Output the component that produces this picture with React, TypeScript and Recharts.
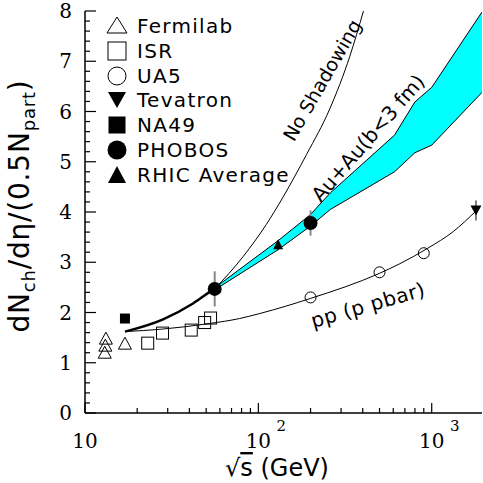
import React from "react";
import { ComposedChart, Line, Area, Scatter, XAxis, YAxis, ErrorBar } from "recharts";

// sqrt(s) in GeV and dN/deta per participant pair
const fermilabS = [13.0, 13.1, 13.2, 17.0];
const fermilabN = [1.19, 1.33, 1.47, 1.37];

const isrS = [23, 28, 41, 49, 53];
const isrN = [1.39, 1.59, 1.65, 1.8, 1.89];

const ua5S = [200, 500, 900];
const ua5N = [2.3, 2.8, 3.18];

const tevatronS = [1800];
const tevatronN = [4.03];
const tevatronErr = [0.2];

const na49S = [17.0];
const na49N = [1.88];

const phobosS = [56, 200];
const phobosN = [2.47, 3.78];
const phobosErr = [0.35, 0.25];

const rhicS = [130];
const rhicN = [3.34];
const rhicErr = [0.1];

// curves
const lowS = [17, 28, 42, 52.5, 56];
const lowN = [1.62, 1.86, 2.18, 2.41, 2.47];

const noShadowS = [56, 82, 111, 139, 190, 258, 337, 404];
const noShadowN = [2.47, 3.12, 3.75, 4.3, 5.15, 6.05, 7.1, 8.0];

const bandS = [56, 130, 200, 260, 610, 800, 1000, 1950];
const bandLo = [2.45, 3.25, 3.72, 4.05, 4.8, 5.18, 5.33, 6.38];
const bandHi = [2.49, 3.43, 3.95, 4.38, 5.53, 6.19, 6.48, 7.98];

const ppS = [17, 28, 52, 78, 102, 200, 500, 654, 950, 1330, 1800];
const ppN = [1.62, 1.67, 1.78, 1.88, 1.98, 2.28, 2.78, 2.97, 3.28, 3.61, 4.02];

// axes
const xMajor = [10, 100, 1000];
const xMinor = [20, 30, 40, 50, 60, 70, 80, 90, 200, 300, 400, 500, 600, 700, 800, 900];
const xExp = ["", "2", "3"];
const yMajor = [0, 1, 2, 3, 4, 5, 6, 7, 8];
const yMinor = yMajor.slice(0, 8).flatMap((v) => [0.2, 0.4, 0.6, 0.8].map((d) => v + d));

const pts = (xs: number[], ys: number[], errs?: number[]) =>
  xs.map((x, i) => ({ x, y: ys[i], err: errs ? errs[i] : 0 }));

const band = bandS.map((x, i) => ({ x, band: [bandLo[i], bandHi[i]] }));

const serif = "DejaVu Serif";
const sans = "DejaVu Sans";

const OpenTri = (p: any) => (
  <polygon points={`${p.cx},${p.cy - 7} ${p.cx - 6.5},${p.cy + 5} ${p.cx + 6.5},${p.cy + 5}`} fill="none" stroke="#000" strokeWidth={1} />
);
const OpenSq = (p: any) => <rect x={p.cx - 6} y={p.cy - 6} width={12} height={12} fill="none" stroke="#000" strokeWidth={1} />;
const OpenCirc = (p: any) => <circle cx={p.cx} cy={p.cy} r={5.5} fill="none" stroke="#000" strokeWidth={1} />;
const DownTri = (p: any) => (
  <polygon points={`${p.cx - 5.5},${p.cy - 5} ${p.cx + 5.5},${p.cy - 5} ${p.cx},${p.cy + 5}`} fill="#000" />
);
const FillSq = (p: any) => <rect x={p.cx - 5} y={p.cy - 5} width={10} height={10} fill="#000" />;
const FillCirc = (p: any) => <circle cx={p.cx} cy={p.cy} r={7} fill="#000" />;
const UpTri = (p: any) => (
  <polygon points={`${p.cx},${p.cy - 6} ${p.cx - 5},${p.cy + 4} ${p.cx + 5},${p.cy + 4}`} fill="#000" />
);

// native tick lines are 5px inward (tickSize -5); majors get an extra piece here
const BottomTick = (p: any) => {
  const k = xMajor.indexOf(p.payload.value);
  if (k < 0) return <g />;
  return (
    <g>
      <path d={`M${p.x},${p.y}V${p.y - 5}`} stroke="#000" strokeWidth={1.2} />
      <text x={p.x} y={p.y + 40} textAnchor="middle" fontFamily={serif} fontSize={20} fill="#000">
        10
      </text>
      {k > 0 && (
        <text x={p.x + 23} y={p.y + 23} textAnchor="middle" fontFamily={serif} fontSize={15} fill="#000">
          {xExp[k]}
        </text>
      )}
    </g>
  );
};

const TopTick = (p: any) =>
  xMajor.includes(p.payload.value) ? <path d={`M${p.x},${p.y}V${p.y + 5}`} stroke="#000" strokeWidth={1.2} /> : <g />;

const LeftTick = (p: any) => {
  const v = p.payload.value;
  if (!Number.isInteger(v)) return <g />;
  return (
    <g>
      <path d={`M${p.x},${p.y}H${p.x + 6}`} stroke="#000" strokeWidth={1.2} />
      <text x={p.x - 18} y={p.y + 7} textAnchor="end" fontFamily={serif} fontSize={20} fill="#000">
        {v}
      </text>
    </g>
  );
};

const RightTick = (p: any) =>
  Number.isInteger(p.payload.value) ? <path d={`M${p.x},${p.y}H${p.x - 6}`} stroke="#000" strokeWidth={1.2} /> : <g />;

const legendRows = [
  { name: "Fermilab", y: 26, icon: (cx: number, cy: number) => <polygon points={`${cx},${cy - 9} ${cx - 10},${cy + 7} ${cx + 10},${cy + 7}`} fill="none" stroke="#000" strokeWidth={1} /> },
  { name: "ISR", y: 51, icon: (cx: number, cy: number) => <rect x={cx - 9} y={cy - 9} width={18} height={18} fill="none" stroke="#000" strokeWidth={1} /> },
  { name: "UA5", y: 76, icon: (cx: number, cy: number) => <circle cx={cx} cy={cy} r={9} fill="none" stroke="#000" strokeWidth={1} /> },
  { name: "Tevatron", y: 100, icon: (cx: number, cy: number) => <polygon points={`${cx - 9},${cy - 8} ${cx + 9},${cy - 8} ${cx},${cy + 8}`} fill="#000" /> },
  { name: "NA49", y: 125, icon: (cx: number, cy: number) => <rect x={cx - 8.5} y={cy - 8.5} width={17} height={17} fill="#000" /> },
  { name: "PHOBOS", y: 150, icon: (cx: number, cy: number) => <circle cx={cx} cy={cy} r={9.5} fill="#000" /> },
  { name: "RHIC Average", y: 175, icon: (cx: number, cy: number) => <polygon points={`${cx},${cy - 9} ${cx - 9},${cy + 8} ${cx + 9},${cy + 8}`} fill="#000" /> },
];

const frame = { stroke: "#000", strokeWidth: 1.5 };
const tickLn = { stroke: "#000", strokeWidth: 1.2 };

export default function App() {
  const ax = { xAxisId: "b", yAxisId: "l" };
  return (
    <div style={{ position: "absolute", left: 0, top: 0, width: 483, height: 483, background: "#fff" }}>
      <ComposedChart width={483} height={483} margin={{ top: 11, right: 1, bottom: 0, left: 0 }}>
        <XAxis
          xAxisId="b"
          type="number"
          dataKey="x"
          scale="log"
          domain={[10, 1950]}
          allowDataOverflow
          ticks={[...xMajor, ...xMinor]}
          interval={0}
          tick={BottomTick}
          tickLine={tickLn}
          tickSize={-5}
          tickMargin={0}
          height={70}
          axisLine={frame}
        />
        <XAxis
          xAxisId="t"
          orientation="top"
          type="number"
          dataKey="x"
          scale="log"
          domain={[10, 1950]}
          allowDataOverflow
          ticks={[...xMajor, ...xMinor]}
          interval={0}
          tick={TopTick}
          tickLine={tickLn}
          tickSize={-5}
          tickMargin={0}
          height={0}
          axisLine={frame}
        />
        <YAxis
          yAxisId="l"
          type="number"
          dataKey="y"
          domain={[0, 8]}
          allowDataOverflow
          ticks={[...yMajor, ...yMinor]}
          interval={0}
          tick={LeftTick}
          tickLine={tickLn}
          tickSize={-5}
          tickMargin={0}
          width={85}
          axisLine={frame}
        />
        <YAxis
          yAxisId="r"
          orientation="right"
          type="number"
          dataKey="y"
          domain={[0, 8]}
          allowDataOverflow
          ticks={[...yMajor, ...yMinor]}
          interval={0}
          tick={RightTick}
          tickLine={tickLn}
          tickSize={-5}
          tickMargin={0}
          width={0}
          axisLine={frame}
        />

        <Area {...ax} data={band} dataKey="band" type="linear" fill="#00ffff" fillOpacity={1} stroke="#000" strokeWidth={1} isAnimationActive={false} dot={false} activeDot={false} />
        <Line {...ax} data={pts(ppS, ppN)} dataKey="y" type="monotone" stroke="#000" strokeWidth={1} dot={false} activeDot={false} isAnimationActive={false} />
        <Line {...ax} data={pts(noShadowS, noShadowN)} dataKey="y" type="monotone" stroke="#000" strokeWidth={1} dot={false} activeDot={false} isAnimationActive={false} />
        <Line {...ax} data={pts(lowS, lowN)} dataKey="y" type="monotone" stroke="#000" strokeWidth={2.5} dot={false} activeDot={false} isAnimationActive={false} />

        <Scatter {...ax} data={pts(fermilabS, fermilabN)} dataKey="y" shape={OpenTri} isAnimationActive={false} />
        <Scatter {...ax} data={pts(isrS, isrN)} dataKey="y" shape={OpenSq} isAnimationActive={false} />
        <Scatter {...ax} data={pts(ua5S, ua5N)} dataKey="y" shape={OpenCirc} isAnimationActive={false} />
        <Scatter {...ax} data={pts(na49S, na49N)} dataKey="y" shape={FillSq} isAnimationActive={false} />
        <Scatter {...ax} data={pts(tevatronS, tevatronN, tevatronErr)} dataKey="y" shape={DownTri} isAnimationActive={false}>
          <ErrorBar dataKey="err" direction="y" width={0} stroke="#000" strokeWidth={1} />
        </Scatter>
        <Scatter {...ax} data={pts(rhicS, rhicN, rhicErr)} dataKey="y" shape={UpTri} isAnimationActive={false}>
          <ErrorBar dataKey="err" direction="y" width={0} stroke="#000" strokeWidth={1} />
        </Scatter>
        <Scatter {...ax} data={pts(phobosS, phobosN, phobosErr)} dataKey="y" shape={FillCirc} isAnimationActive={false}>
          <ErrorBar dataKey="err" direction="y" width={0} stroke="#888" strokeWidth={2} />
        </Scatter>
      </ComposedChart>

      <svg width={483} height={483} style={{ position: "absolute", left: 0, top: 0, pointerEvents: "none" }}>
        {legendRows.map((r) => (
          <g key={r.name}>
            {r.icon(117, r.y)}
            <text x={137} y={r.y + 7} fontFamily={sans} fontSize={20} letterSpacing={1.3} fill="#000">
              {r.name}
            </text>
          </g>
        ))}
        <text transform="translate(322,80) rotate(-60)" textAnchor="middle" dominantBaseline="central" fontFamily={sans} fontSize={19} fill="#000">
          No Shadowing
        </text>
        <text transform="translate(368,138) rotate(-49)" textAnchor="middle" dominantBaseline="central" fontFamily={sans} fontSize={20} fill="#000">
          Au+Au(b&lt;3 fm)
        </text>
        <text transform="translate(368,305) rotate(-16)" textAnchor="middle" dominantBaseline="central" fontFamily={sans} fontSize={20} letterSpacing={0.5} fill="#000">
          pp (p pbar)
        </text>
        <text transform="translate(29,206) rotate(-90)" textAnchor="middle" fontFamily={sans} fontSize={28} letterSpacing={0.8} fill="#000">
          dN<tspan fontSize={18} dy={6}>ch</tspan>
          <tspan dy={-6}>/dη/(0.5N</tspan>
          <tspan fontSize={18} dy={6}>part</tspan>
          <tspan dy={-6}>)</tspan>
        </text>
        <text x={277} y={476} textAnchor="middle" fontFamily={sans} fontSize={24} fill="#000">
          √<tspan textDecoration="overline">s</tspan> (GeV)
        </text>
      </svg>
    </div>
  );
}
